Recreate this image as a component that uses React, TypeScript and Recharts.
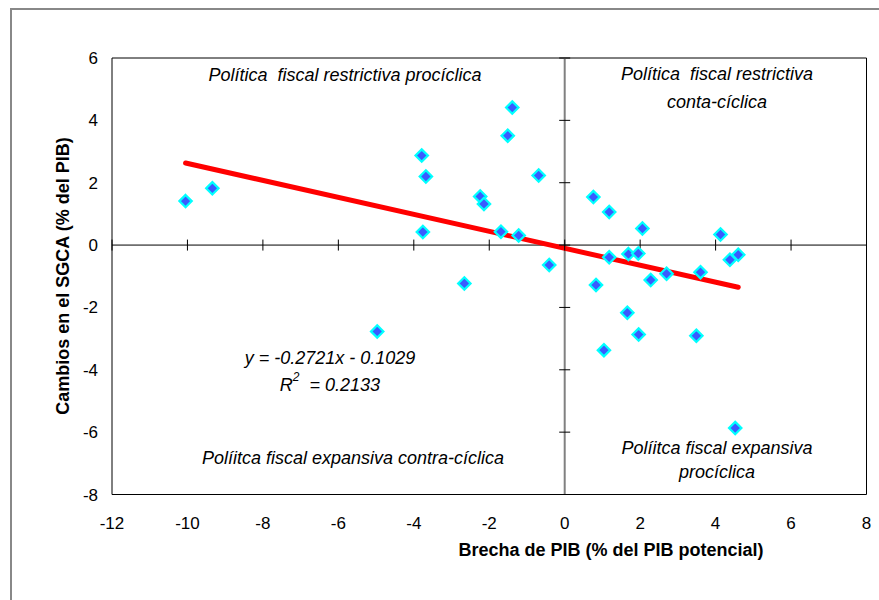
import { ScatterChart, Scatter, XAxis, YAxis, ReferenceLine, ReferenceArea, ReferenceDot } from 'recharts';

// Brecha de PIB (% del PIB potencial)
const gapX = [
  -10.05, -9.34, -4.97, -3.79, -3.68, -3.76, -2.66, -2.24, -2.14, -1.69, -1.51,
  -1.39, -1.22, -0.69, -0.41, 0.76, 0.83, 1.04, 1.18, 1.18, 1.66, 1.69,
  1.95, 1.96, 2.06, 2.28, 2.7, 3.49, 3.6, 4.13, 4.38, 4.52, 4.6,
];
// Cambios en el SGCA (% del PIB)
const sgcaY = [
  1.41, 1.82, -2.77, 2.87, 2.2, 0.42, -1.23, 1.56, 1.32, 0.43, 3.51,
  4.41, 0.31, 2.23, -0.64, 1.54, -1.28, -3.37, 1.06, -0.39, -2.17, -0.29,
  -0.27, -2.87, 0.53, -1.12, -0.92, -2.91, -0.87, 0.34, -0.47, -5.87, -0.31,
];

const xTicks = [-12, -10, -8, -6, -4, -2, 0, 2, 4, 6, 8];
const yTicks = [-8, -6, -4, -2, 0, 2, 4, 6];

const slope = -0.2721;
const intercept = -0.1029;
const r2 = 0.2133;

const FONT = '"Liberation Sans", Arial, sans-serif';

const points = gapX.map((x, i) => ({ x, y: sgcaY[i] }));
const xMin = Math.min(...gapX);
const xMax = Math.max(...gapX);
const trend = [
  { x: xMin, y: slope * xMin + intercept },
  { x: xMax, y: slope * xMax + intercept },
];

const Diamond = (props: any) => {
  const { cx, cy } = props;
  const r = 6.2;
  return (
    <polygon
      points={`${cx},${cy - r} ${cx + r},${cy} ${cx},${cy + r} ${cx - r},${cy}`}
      fill="#3A5BFF"
      stroke="#00FFFF"
      strokeWidth={2.2}
    />
  );
};

const italic = { fontFamily: FONT, fontSize: 18, fontStyle: 'italic', fill: '#000', whiteSpace: 'pre' } as const;
const bold = { fontFamily: FONT, fontSize: 18, fontWeight: 'bold', fill: '#000' } as const;

export default function App() {
  return (
    <div style={{ position: 'fixed', left: 0, top: 0, width: 879, height: 600, background: '#fff', overflow: 'hidden' }}>
      <div
        style={{
          position: 'absolute',
          left: 10,
          top: 8,
          width: 900,
          height: 700,
          borderTop: '2px solid #888',
          borderLeft: '2px solid #888',
        }}
      />
      <div style={{ position: 'absolute', left: 0, top: 0 }}>
        <ScatterChart width={879} height={600} margin={{ top: 58, right: 12.5, left: 0, bottom: 45.5 }}>
          <XAxis
            type="number"
            dataKey="x"
            domain={[-12, 8]}
            ticks={xTicks}
            allowDataOverflow
            tickLine={false}
            axisLine={false}
            tickMargin={16}
            height={60}
            tick={{ fill: '#000', fontSize: 17, fontFamily: FONT }}
          />
          <YAxis
            type="number"
            dataKey="y"
            domain={[-8, 6]}
            ticks={yTicks}
            allowDataOverflow
            tickLine={false}
            axisLine={false}
            tickMargin={8}
            width={112}
            tick={{ fill: '#000', fontSize: 17, fontFamily: FONT }}
          />
          <ReferenceArea x1={-12} x2={8} y1={-8} y2={6} fill="#fff" fillOpacity={0} stroke="#000" strokeWidth={1} />
          <ReferenceLine x={0} stroke="#808080" strokeWidth={2} />
          <ReferenceLine y={0} stroke="#000" strokeWidth={1} />
          {xTicks.map((t) => (
            <ReferenceDot
              key={'xt' + t}
              x={t}
              y={0}
              r={0}
              shape={(p: any) => <line x1={p.cx} x2={p.cx} y1={p.cy - 5.5} y2={p.cy + 5.5} stroke="#000" strokeWidth={1} />}
            />
          ))}
          {yTicks.map((t) => (
            <ReferenceDot
              key={'yt' + t}
              x={0}
              y={t}
              r={0}
              shape={(p: any) => <line x1={p.cx - 5.5} x2={p.cx + 5.5} y1={p.cy} y2={p.cy} stroke="#000" strokeWidth={1} />}
            />
          ))}
          <ReferenceLine
            segment={trend}
            stroke="#FF0000"
            strokeWidth={5}
            strokeLinecap="round"
          />
          <Scatter data={points} shape={<Diamond />} isAnimationActive={false} />

          <text x={345} y={75} textAnchor="middle" dominantBaseline="central" style={italic}>
            {'Política  fiscal restrictiva procíclica'}
          </text>
          <text x={717} y={74} textAnchor="middle" dominantBaseline="central" style={italic}>
            {'Política  fiscal restrictiva'}
          </text>
          <text x={717} y={102} textAnchor="middle" dominantBaseline="central" style={italic}>
            conta-cíclica
          </text>
          <text x={353} y={458} textAnchor="middle" dominantBaseline="central" style={italic}>
            Políitca fiscal expansiva contra-cíclica
          </text>
          <text x={717} y={448} textAnchor="middle" dominantBaseline="central" style={italic}>
            Políitca fiscal expansiva
          </text>
          <text x={717} y={472} textAnchor="middle" dominantBaseline="central" style={italic}>
            procíclica
          </text>
          <text x={330} y={358} textAnchor="middle" dominantBaseline="central" style={italic}>
            {`y = ${slope}x - ${Math.abs(intercept)}`}
          </text>
          <text x={330} y={385} textAnchor="middle" dominantBaseline="central" style={italic}>
            R<tspan fontSize={12} dy={-8}>2</tspan>
            <tspan dy={8}>{'  = ' + r2}</tspan>
          </text>

          <text x={611} y={550} textAnchor="middle" dominantBaseline="central" style={bold}>
            Brecha de PIB (% del PIB potencial)
          </text>
          <text
            x={63}
            y={276}
            textAnchor="middle"
            dominantBaseline="central"
            transform="rotate(-90 63 276)"
            style={bold}
          >
            Cambios en el SGCA (% del PIB)
          </text>
        </ScatterChart>
      </div>
    </div>
  );
}
